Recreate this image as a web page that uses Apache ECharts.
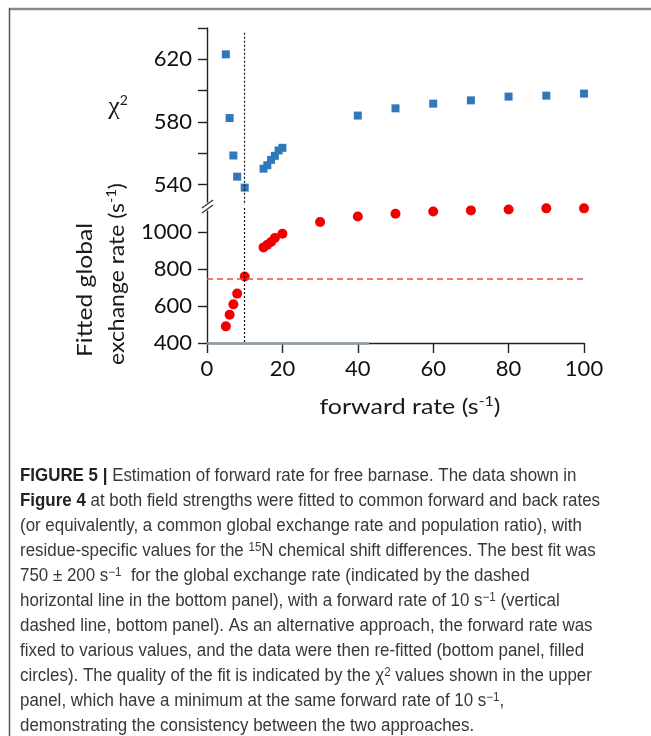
<!DOCTYPE html>
<html><head><meta charset="utf-8">
<script src="https://cdn.jsdelivr.net/npm/echarts@6/dist/echarts.min.js"></script>
<style>html,body{margin:0;padding:0;background:#fff}#c{width:651px;height:736px}</style>
</head><body><div id="c"></div>
<script>
// ---- data ----
const chiForwardRates = [5, 6, 7, 8, 10, 15, 16, 17, 18, 19, 20, 40, 50, 60, 70, 80, 90, 100];
const chiSquared      = [623.2, 582.5, 558.6, 545.1, 538.1, 550.2, 552.4, 555.8, 558.4, 561.8, 563.5, 584.1, 588.7, 591.7, 593.8, 596.2, 596.8, 598.1];
const fitForwardRates = [5, 6, 7, 8, 10, 15, 16, 17, 18, 20, 30, 40, 50, 60, 70, 80, 90, 100];
const fittedExchange  = [490, 553, 609, 667, 760, 917, 931, 946, 968, 991, 1054, 1084, 1099, 1111, 1117, 1122, 1128, 1128];
const xTicks = [0, 20, 40, 60, 80, 100];
const chiTicks = [540, 560, 580, 600, 620, 640];
const chiTickLabels = [540, 580, 620];
const rateTicks = [400, 600, 800, 1000];
const bestGlobalRate = 750;
const bestForwardRate = 10;

const captionLines = [
  [['b', 'FIGURE 5 |'], ['n', ' Estimation of forward rate for free barnase. The data shown in']],
  [['b', 'Figure 4'], ['n', ' at both field strengths were fitted to common forward and back rates']],
  [['n', '(or equivalently, a common global exchange rate and population ratio), with']],
  [['n', 'residue-specific values for the '], ['sup', '15'], ['n', 'N chemical shift differences. The best fit was']],
  [['n', '750 \u00B1 200 s'], ['sup', '\u22121'], ['n', '  for the global exchange rate (indicated by the dashed']],
  [['n', 'horizontal line in the bottom panel), with a forward rate of 10 s'], ['sup', '\u22121'], ['n', ' (vertical']],
  [['n', 'dashed line, bottom panel). As an alternative approach, the forward rate was']],
  [['n', 'fixed to various values, and the data were then re-fitted (bottom panel, filled']],
  [['n', 'circles). The quality of the fit is indicated by the \u03C7'], ['sup', '2'], ['n', ' values shown in the upper']],
  [['n', 'panel, which have a minimum at the same forward rate of 10 s'], ['sup', '\u22121'], ['n', ',']],
  [['n', 'demonstrating the consistency between the two approaches.']]
];

// ---- helpers ----
const ctx = document.createElement('canvas').getContext('2d');
function measure(segs, fonts) {
  let w = 0;
  segs.forEach(([k, t]) => { ctx.font = fonts[k]; w += ctx.measureText(t).width; });
  return w;
}
function richStr(segs) {
  return segs.map(([k, t]) => '{' + k + '|' + t + '}').join('');
}

const axisFont = 'Lato, "Open Sans", sans-serif';
const capFam = '"Liberation Sans Narrow", "Liberation Sans", Arial, sans-serif';
const capSize = 17.5;
const capFonts = {
  n: capSize + 'px ' + capFam,
  b: 'bold ' + capSize + 'px ' + capFam,
  sup: '12px ' + capFam
};
// one common horizontal scale for the caption (second line ends near x = 600)
const capScale = (600 - 20) / measure(captionLines[1], capFonts);
const capRich = {
  n: { fontFamily: capFam, fontSize: capSize, fill: '#383838', lineHeight: 20 },
  b: { fontFamily: capFam, fontSize: capSize, fontWeight: 'bold', fill: '#222', lineHeight: 20 },
  sup: { fontFamily: capFam, fontSize: 12, fill: '#383838', lineHeight: 13, verticalAlign: 'top' }
};

const titleSize = 22;
const tFonts = { a: titleSize + 'px ' + axisFont, s: '14px ' + axisFont };
const titleRich = {
  a: { fontFamily: axisFont, fontSize: titleSize, fill: '#1a1a1a', lineHeight: 26 },
  s: { fontFamily: axisFont, fontSize: 14, fill: '#1a1a1a', lineHeight: 16, verticalAlign: 'top' }
};
const xTitleSegs = [['a', 'forward rate (s'], ['s', '-1'], ['a', ')']];
const yTitle1Segs = [['a', 'Fitted global']];
const yTitle2Segs = [['a', 'exchange rate (s'], ['s', '-1'], ['a', ')']];

const graphics = [];
// frame
graphics.push({ type: 'line', shape: { x1: 9, y1: 9, x2: 651, y2: 9 }, style: { stroke: '#8a8a8a', lineWidth: 2.5 } });
graphics.push({ type: 'line', shape: { x1: 9.5, y1: 8, x2: 9.5, y2: 736 }, style: { stroke: '#555', lineWidth: 1.5 } });
// axis break
graphics.push({ type: 'rect', shape: { x: 204, y: 202.5, width: 7, height: 8 }, style: { fill: '#fff' }, z: 100 });
graphics.push({ type: 'line', shape: { x1: 202, y1: 208, x2: 213, y2: 200 }, style: { stroke: '#333', lineWidth: 1.3 }, z: 101 });
graphics.push({ type: 'line', shape: { x1: 202, y1: 213, x2: 213, y2: 205 }, style: { stroke: '#333', lineWidth: 1.3 }, z: 101 });
// greyish overlay on x axis start
graphics.push({ type: 'line', shape: { x1: 207, y1: 343.5, x2: 369, y2: 343.5 }, style: { stroke: '#8f9aa4', lineWidth: 2.5 }, z: 50 });
// axis titles
graphics.push({ type: 'text', x: 410, y: 407, scaleX: 181 / measure(xTitleSegs, tFonts),
  style: { text: richStr(xTitleSegs), rich: titleRich, align: 'center', verticalAlign: 'middle' } });
graphics.push({ type: 'text', x: 85, y: 290, rotation: Math.PI / 2, scaleX: 134 / measure(yTitle1Segs, tFonts),
  style: { text: richStr(yTitle1Segs), rich: titleRich, align: 'center', verticalAlign: 'middle' } });
graphics.push({ type: 'text', x: 117, y: 274, rotation: Math.PI / 2, scaleX: 182 / measure(yTitle2Segs, tFonts),
  style: { text: richStr(yTitle2Segs), rich: titleRich, align: 'center', verticalAlign: 'middle' } });
graphics.push({ type: 'text', x: 118, y: 107,
  style: { text: '{c|\u03C7}{s|2}', rich: {
    c: { fontFamily: '"Liberation Serif", "DejaVu Serif", serif', fontSize: 26, fill: '#1a1a1a', lineHeight: 28 },
    s: { fontFamily: axisFont, fontSize: 14, fill: '#1a1a1a', lineHeight: 16, verticalAlign: 'top' } },
    align: 'center', verticalAlign: 'middle' } });
// caption
captionLines.forEach((segs, i) => {
  graphics.push({ type: 'text', x: 20, y: 476.5 + 25 * i, scaleX: capScale,
    style: { text: richStr(segs), rich: capRich, align: 'left', verticalAlign: 'middle' } });
});

const axisLineStyle = { color: '#222', width: 1.4 };
const labelStyle = { fontFamily: axisFont, fontSize: 22, color: '#111', formatter: v => String(v) };

const chart = echarts.init(document.getElementById('c'), null, { renderer: 'canvas' });
chart.setOption({
  animation: false,
  backgroundColor: '#fff',
  grid: [
    { left: 207, top: 28, width: 377, height: 177 },
    { left: 207, top: 208, width: 377, height: 135 }
  ],
  xAxis: [
    { gridIndex: 0, type: 'value', min: 0, max: 100, show: false },
    { gridIndex: 1, type: 'value', min: 0, max: 100, interval: 20,
      axisLine: { onZero: false, lineStyle: axisLineStyle },
      axisTick: { length: 10, lineStyle: axisLineStyle, customValues: xTicks },
      axisLabel: Object.assign({ margin: 15, customValues: xTicks }, labelStyle),
      splitLine: { show: false } }
  ],
  yAxis: [
    { gridIndex: 0, type: 'value', min: 527, max: 640,
      axisLine: { show: true, onZero: false, lineStyle: axisLineStyle },
      axisTick: { show: true, length: 9, lineStyle: axisLineStyle, customValues: chiTicks },
      axisLabel: Object.assign({ margin: 15, customValues: chiTickLabels }, labelStyle),
      splitLine: { show: false } },
    { gridIndex: 1, type: 'value', min: 400, max: 1130,
      axisLine: { show: true, onZero: false, lineStyle: axisLineStyle },
      axisTick: { show: true, length: 9, lineStyle: axisLineStyle, customValues: rateTicks },
      axisLabel: Object.assign({ margin: 15, customValues: rateTicks }, labelStyle),
      splitLine: { show: false } }
  ],
  series: [
    { type: 'scatter', xAxisIndex: 0, yAxisIndex: 0, symbol: 'rect', symbolSize: 8,
      itemStyle: { color: '#2f78ba', opacity: 1 },
      data: chiForwardRates.map((x, i) => [x, chiSquared[i]]),
      markLine: { silent: true, symbol: 'none', label: { show: false },
        lineStyle: { color: '#111', type: [2, 2], width: 1.2 },
        data: [[{ coord: [bestForwardRate, 637] }, { coord: [bestForwardRate, 527] }]] } },
    { type: 'scatter', xAxisIndex: 1, yAxisIndex: 1, symbol: 'circle', symbolSize: 10,
      itemStyle: { color: '#f20000', opacity: 1 },
      data: fitForwardRates.map((x, i) => [x, fittedExchange[i]]),
      markLine: { silent: true, symbol: 'none', label: { show: false },
        data: [
          [{ coord: [bestForwardRate, 1130], lineStyle: { color: '#111', type: [2, 2], width: 1.2 } },
           { coord: [bestForwardRate, 400] }],
          [{ coord: [0, bestGlobalRate], lineStyle: { color: '#f04a4a', type: [6, 4], width: 1.5 } },
           { coord: [100, bestGlobalRate] }]
        ] } }
  ],
  graphic: graphics
});
</script></body></html>
